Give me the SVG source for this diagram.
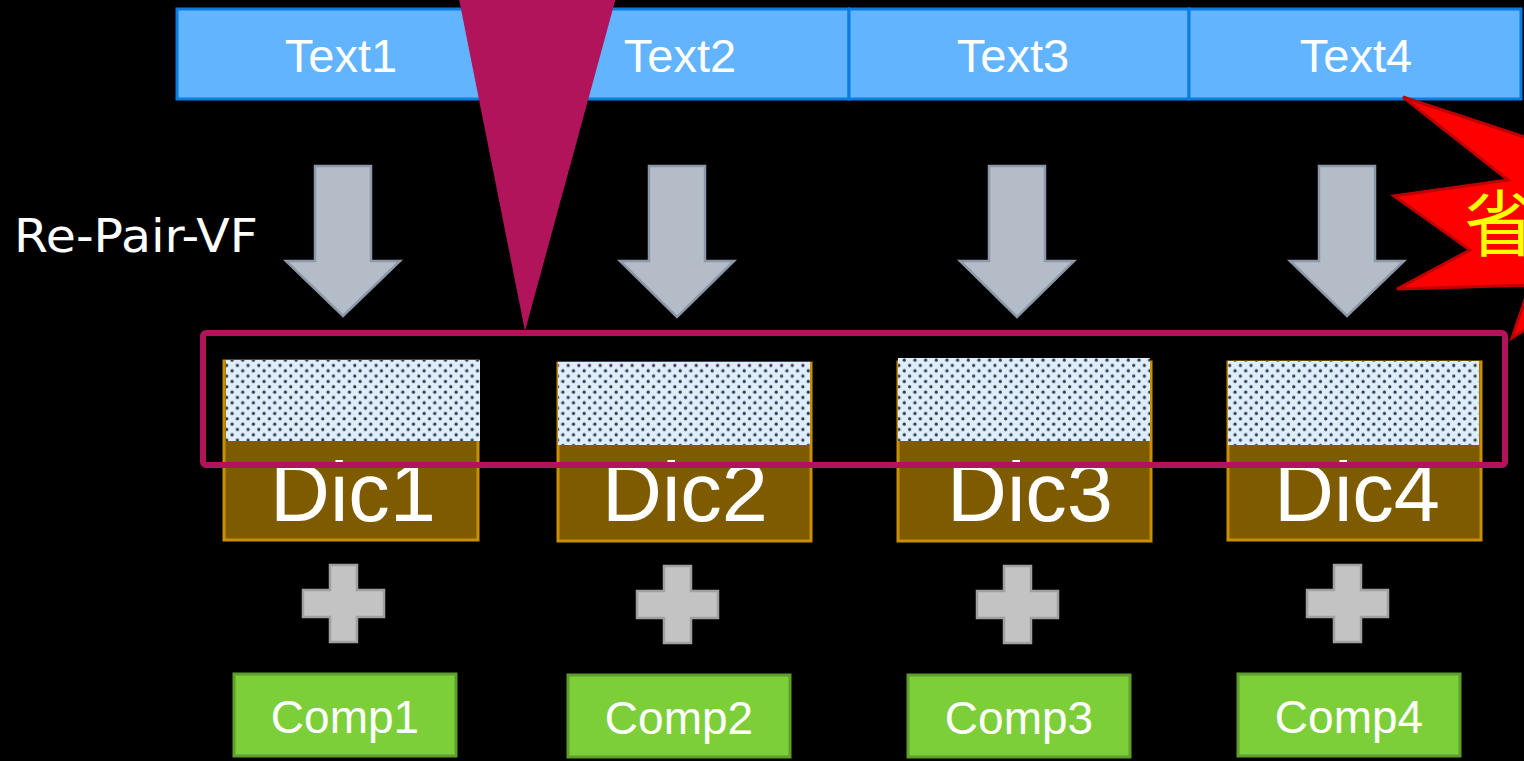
<svg xmlns="http://www.w3.org/2000/svg" width="1524" height="761" viewBox="0 0 1524 761">
  <style>
    .txt { font-family: "Liberation Sans", Arial, sans-serif; fill: #ffffff; text-anchor: middle; }
    .bar { fill: #62B4FF; stroke: #0B7DE0; stroke-width: 3; }
    .arrow { fill: #B4BCC8; stroke: #8C97A8; stroke-width: 2.5; stroke-linejoin: miter; }
    .dic { fill: #7F5B00; stroke: #C98F00; stroke-width: 3; }
    .dots { fill: url(#dotfill); }
    .plus { fill: #C3C3C3; stroke: #A0A0A0; stroke-width: 2.5; }
    .comp { fill: #7DCF3A; stroke: #5E9E2E; stroke-width: 3; }
    .hl { fill: none; stroke: #B1145B; stroke-width: 6; }
  </style>
  <defs>
    <pattern id="dotfill" patternUnits="userSpaceOnUse" width="10.67" height="10.67">
      <rect width="10.67" height="10.67" fill="#DCEEFF"/>
      <circle cx="2.67" cy="2.67" r="1.6" fill="#3a3a3a"/>
      <circle cx="8" cy="8" r="1.6" fill="#3a3a3a"/>
    </pattern>
  </defs>

  <rect width="1524" height="761" fill="#000000"/>

  <!-- input text blocks -->
  <g id="text1"><rect class="bar" x="177" y="9" width="334" height="90"/><text class="txt" x="341" y="72" font-size="47">Text1</text></g>
  <g id="text2"><rect class="bar" x="511" y="9" width="338" height="90"/><text class="txt" x="680" y="72" font-size="47">Text2</text></g>
  <g id="text3"><rect class="bar" x="849" y="9" width="340" height="90"/><text class="txt" x="1013" y="72" font-size="47">Text3</text></g>
  <g id="text4"><rect class="bar" x="1189" y="9" width="332" height="90"/><text class="txt" x="1356" y="72" font-size="47">Text4</text></g>

  <g id="method-label">
    <text x="14" y="252" font-family="'DejaVu Sans', Verdana, sans-serif" font-size="47" textLength="244" lengthAdjust="spacingAndGlyphs" fill="#ffffff">Re-Pair-VF</text>
  </g>

  <!-- connectors: down arrows and plus signs -->
  <g id="connectors">
    <path class="arrow" d="M315,166 H371 V261 H400 L343,316 L286,261 H315 Z"/>
    <path class="arrow" d="M649,166 H705 V261 H734 L677,317 L620,261 H649 Z"/>
    <path class="arrow" d="M989,166 H1045 V261 H1074 L1017,317 L960,261 H989 Z"/>
    <path class="arrow" d="M1319,166 H1375 V261 H1404 L1347,316 L1290,261 H1319 Z"/>
    <path class="plus" d="M330,565 H357 V590 H384 V617 H357 V642 H330 V617 H303 V590 H330 Z"/>
    <path class="plus" d="M664,566 H691 V591 H718 V618 H691 V643 H664 V618 H637 V591 H664 Z"/>
    <path class="plus" d="M1004,566 H1031 V591 H1058 V618 H1031 V643 H1004 V618 H977 V591 H1004 Z"/>
    <path class="plus" d="M1334,565 H1361 V590 H1388 V617 H1361 V642 H1334 V617 H1307 V590 H1334 Z"/>
  </g>

  <!-- dictionaries -->
  <g id="dic1">
    <rect class="dic" x="224" y="361" width="254" height="179"/>
    <rect class="dots" x="226" y="360" width="254" height="81"/>
    <text class="txt" x="353" y="521" font-size="83">Dic1</text>
  </g>
  <g id="dic2">
    <rect class="dic" x="558" y="363" width="253" height="178"/>
    <rect class="dots" x="558" y="362" width="252" height="83"/>
    <text class="txt" x="685" y="521" font-size="83">Dic2</text>
  </g>
  <g id="dic3">
    <rect class="dic" x="898" y="362" width="253" height="179"/>
    <rect class="dots" x="898" y="358" width="252" height="83"/>
    <text class="txt" x="1030" y="521" font-size="83">Dic3</text>
  </g>
  <g id="dic4">
    <rect class="dic" x="1228" y="362" width="253" height="178"/>
    <rect class="dots" x="1228" y="361" width="251" height="84"/>
    <text class="txt" x="1357" y="521" font-size="83">Dic4</text>
  </g>

  <!-- compressed outputs -->
  <g id="comp1"><rect class="comp" x="234" y="674" width="222" height="82"/><text class="txt" x="345" y="733" font-size="46">Comp1</text></g>
  <g id="comp2"><rect class="comp" x="568" y="675" width="222" height="82"/><text class="txt" x="679" y="734" font-size="46">Comp2</text></g>
  <g id="comp3"><rect class="comp" x="908" y="675" width="222" height="82"/><text class="txt" x="1019" y="734" font-size="46">Comp3</text></g>
  <g id="comp4"><rect class="comp" x="1238" y="674" width="222" height="82"/><text class="txt" x="1349" y="733" font-size="46">Comp4</text></g>

  <!-- highlight frame and pointer -->
  <g id="highlight">
    <rect class="hl" x="203" y="333" width="1302" height="132" rx="3"/>
    <polygon points="458,-6 617,-6 525,331" fill="#B1145B"/>
  </g>

  <!-- starburst callout, running off the right edge -->
  <g id="burst">
    <polygon points="1403,97 1600,162 1600,300 1540,320 1512,338 1530,285 1397,289 1470,250 1394,196 1508,180" fill="#FF0000" stroke="#C00000" stroke-width="3" stroke-linejoin="miter"/>
    <text x="1464" y="250" font-family="'Noto Sans CJK JP', 'Noto Sans CJK SC', sans-serif" font-size="72" fill="#FFFF00">省</text>
  </g>
</svg>
